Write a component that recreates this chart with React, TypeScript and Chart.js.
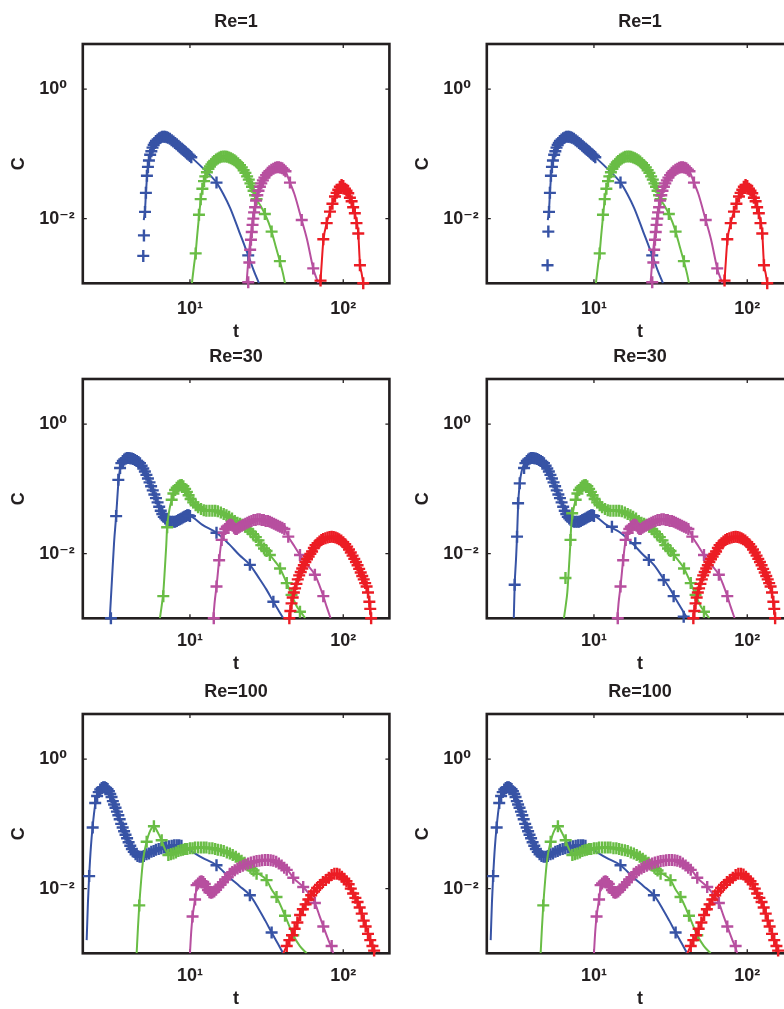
import React, { useEffect, useRef } from 'react';
import { Chart, registerables } from 'chart.js';

Chart.register(...registerables);

type Pt = [number, number];

// ---------- axes ----------
const tLimits: [number, number] = [2, 200];
const cLimits: [number, number] = [0.001, 5];
const tTickValues = [10, 100];
const tTickLabels = ['10¹', '10²'];
const cTickValues = [0.01, 1];
const cTickLabels = ['10⁻²', '10⁰'];
const tAxisTitle = 't';
const cAxisTitle = 'C';
const panelTitles = ['Re=1', 'Re=30', 'Re=100'];
const seriesNames = ['blue', 'green', 'magenta', 'red'];

// ---------- Re = 1 ----------
const re1_blueLine: Pt[] = [[5.0,0.0095],[5.09,0.0135],[5.16,0.024],[5.24,0.042],[5.35,0.068],[5.5,0.097],[5.7,0.125],[6.0,0.158],[6.35,0.178],[6.75,0.185],[7.2,0.178],[8,0.148],[9,0.118],[10,0.093],[12,0.062],[14.9,0.036],[16.5,0.024],[18.3,0.0145],[21,0.0062],[24,0.0027],[26,0.0016],[28.2,0.001]];
const re1_blueMarks: Pt[] = [[4.96,0.00265],[5.01,0.0055],[5.09,0.0127],[5.16,0.025],[5.24,0.046],[5.32,0.063],[5.4,0.079],[5.5,0.097],[5.6,0.11],[5.7,0.125],[5.8,0.137],[5.9,0.148],[6.0,0.158],[6.15,0.167],[6.3,0.175],[6.45,0.18],[6.6,0.184],[6.75,0.185],[6.9,0.184],[7.05,0.181],[7.2,0.177],[7.4,0.171],[7.6,0.163],[7.8,0.156],[8.0,0.148],[8.2,0.141],[8.4,0.134],[8.6,0.127],[8.8,0.121],[9.0,0.116],[9.2,0.111],[9.4,0.106],[9.6,0.101],[9.8,0.097],[10.0,0.093],[10.2,0.089],[14.9,0.036],[24.0,0.0027]];
const re1_greenLine: Pt[] = [[10.3,0.001],[10.6,0.0018],[10.9,0.003],[11.15,0.0055],[11.4,0.0095],[11.65,0.016],[11.9,0.024],[12.2,0.033],[12.6,0.044],[13.1,0.056],[13.8,0.069],[14.8,0.082],[16,0.09],[17,0.091],[18,0.088],[20,0.076],[22.4,0.056],[24.8,0.035],[27.2,0.02],[29,0.0155],[30.8,0.0118],[32.5,0.0088],[34.1,0.0063],[36.5,0.0035],[38.6,0.0022],[40.5,0.0014],[41.7,0.001]];
const re1_greenMarks: Pt[] = [[10.9,0.0029],[11.45,0.0115],[11.75,0.02],[12.05,0.029],[12.35,0.038],[12.6,0.045],[12.9,0.052],[13.2,0.059],[13.5,0.064],[13.8,0.069],[14.1,0.074],[14.4,0.078],[14.8,0.082],[15.2,0.085],[15.6,0.088],[16.0,0.09],[16.5,0.091],[17.0,0.091],[17.5,0.09],[18.0,0.088],[18.5,0.086],[19.0,0.083],[19.5,0.08],[20.0,0.076],[20.6,0.072],[21.2,0.067],[21.8,0.062],[22.4,0.056],[23.0,0.051],[23.6,0.045],[24.2,0.04],[24.8,0.035],[25.4,0.031],[26.0,0.027],[26.6,0.023],[27.2,0.02],[30.8,0.0118],[34.1,0.0063],[38.6,0.0022]];
const re1_magentaLine: Pt[] = [[23.4,0.001],[23.8,0.0017],[24.3,0.003],[24.8,0.0048],[25.4,0.0075],[26.2,0.0125],[27.2,0.02],[28.5,0.029],[30,0.039],[31.5,0.047],[33.5,0.055],[35.5,0.06],[37.5,0.062],[40,0.06],[42,0.054],[44.9,0.036],[48,0.024],[53.6,0.0095],[58,0.0048],[63.7,0.0017],[66,0.0013],[68.8,0.001]];
const re1_magentaMarks: Pt[] = [[24.0,0.00104],[24.4,0.0021],[24.7,0.0033],[25.0,0.0047],[25.3,0.0062],[25.6,0.008],[25.9,0.01],[26.2,0.0125],[26.6,0.015],[27.0,0.019],[27.5,0.023],[28.0,0.027],[28.6,0.031],[29.2,0.035],[29.9,0.039],[30.6,0.043],[31.4,0.047],[32.2,0.051],[33.0,0.054],[34.0,0.057],[35.0,0.059],[36.0,0.061],[37.0,0.062],[38.0,0.062],[39.0,0.061],[40.0,0.06],[41.0,0.057],[42.0,0.054],[44.9,0.036],[53.6,0.0095],[63.7,0.0017]];
const re1_redLine: Pt[] = [[70.9,0.001],[72.5,0.0022],[74.1,0.0045],[78,0.0085],[81.9,0.0128],[85,0.017],[88.3,0.022],[92.8,0.0277],[97.5,0.032],[102.6,0.0295],[107.8,0.0247],[113.4,0.0185],[119,0.0121],[125.3,0.0059],[128.5,0.002],[132,0.0014],[135,0.001]];
const re1_redMarks: Pt[] = [[71.1,0.0011],[74.1,0.0048],[78,0.0085],[81.9,0.0128],[85,0.017],[88.3,0.022],[90.5,0.025],[92.8,0.028],[95,0.031],[97.5,0.033],[100,0.032],[102.6,0.029],[105,0.027],[107.8,0.0247],[110.5,0.021],[113.4,0.0185],[116,0.015],[119,0.0121],[122,0.0085],[125.3,0.0059],[128.5,0.0019],[135,0.001]];
// right-hand Re=1 panel: first blue samples read separately
const re1b_blueFront: Pt[] = [[4.98,0.0019],[5.04,0.0063]];

// ---------- Re = 30 ----------
const re30_blueLine: Pt[] = [[3.0,0.001],[3.1,0.004],[3.2,0.015],[3.3,0.038],[3.41,0.12],[3.5,0.2],[3.65,0.26],[3.8,0.29],[3.96,0.3],[4.3,0.29],[4.72,0.25],[5.0,0.2],[5.25,0.155],[5.48,0.122],[5.75,0.092],[6.06,0.068],[6.37,0.048],[6.7,0.038],[7.0,0.034],[7.5,0.031],[8.0,0.031],[8.6,0.034],[9.3,0.038],[9.8,0.039],[10.5,0.036],[12,0.028],[14.9,0.021],[18,0.014],[21,0.0095],[24.6,0.0067],[28,0.0043],[31.5,0.0028],[35,0.0018],[38,0.0013],[40.6,0.001]];
const re30_blueMarks: Pt[] = [[3.05,0.001],[3.3,0.038],[3.41,0.138],[3.5,0.21],[3.57,0.25],[3.65,0.27],[3.73,0.285],[3.81,0.295],[3.9,0.3],[3.98,0.3],[4.07,0.299],[4.17,0.296],[4.27,0.29],[4.38,0.28],[4.5,0.27],[4.61,0.26],[4.72,0.25],[4.84,0.228],[4.96,0.207],[5.08,0.186],[5.2,0.165],[5.32,0.145],[5.45,0.126],[5.58,0.11],[5.72,0.095],[5.86,0.082],[6.0,0.072],[6.15,0.062],[6.3,0.053],[6.45,0.046],[6.6,0.041],[6.75,0.037],[6.9,0.035],[7.05,0.033],[7.2,0.032],[7.4,0.031],[7.6,0.031],[7.8,0.031],[8.0,0.031],[8.2,0.032],[8.4,0.033],[8.6,0.034],[8.8,0.035],[9.0,0.036],[9.2,0.037],[9.4,0.038],[9.6,0.039],[9.8,0.039],[10.0,0.038],[14.9,0.021],[24.6,0.0067],[35,0.0018]];
const re30_greenLine: Pt[] = [[6.37,0.001],[6.55,0.0016],[6.7,0.0025],[6.85,0.0055],[7.0,0.013],[7.1,0.0256],[7.35,0.048],[7.6,0.068],[8.0,0.095],[8.4,0.11],[8.83,0.115],[9.3,0.1],[9.8,0.08],[10.5,0.062],[11.3,0.052],[12.2,0.047],[13.2,0.046],[14.5,0.046],[16,0.043],[18,0.037],[20,0.031],[22,0.028],[24,0.024],[26.5,0.019],[29,0.014],[31.6,0.011],[33.2,0.0095],[36,0.0075],[38.7,0.0059],[42.8,0.0035],[46,0.0023],[50,0.0015],[52.2,0.0013],[56.5,0.001]];
const re30_greenMarks: Pt[] = [[6.7,0.0022],[7.1,0.0256],[7.6,0.068],[7.8,0.085],[8.0,0.096],[8.2,0.104],[8.4,0.11],[8.6,0.114],[8.83,0.115],[9.05,0.11],[9.3,0.1],[9.55,0.09],[9.8,0.08],[10.1,0.07],[10.5,0.062],[10.9,0.056],[11.3,0.052],[11.8,0.049],[12.3,0.047],[12.8,0.046],[13.4,0.046],[14.0,0.046],[14.6,0.046],[15.2,0.045],[15.9,0.043],[16.6,0.041],[17.3,0.039],[18.0,0.037],[18.8,0.035],[19.6,0.032],[20.4,0.03],[21.2,0.029],[22.0,0.028],[22.9,0.026],[23.8,0.024],[24.8,0.022],[25.8,0.02],[26.9,0.018],[28.0,0.016],[29.2,0.0135],[30.4,0.012],[31.6,0.011],[33.2,0.0095],[38.7,0.0059],[42.8,0.0035],[46.0,0.0023],[52.2,0.00126]];
const re30_magentaLine: Pt[] = [[14.2,0.001],[14.5,0.0018],[14.9,0.0031],[15.5,0.0079],[16.1,0.0163],[16.9,0.0232],[17.6,0.027],[18.4,0.028],[19.4,0.025],[20.3,0.024],[22,0.028],[24,0.031],[26,0.033],[28,0.034],[30,0.033],[32,0.032],[34,0.03],[36.7,0.028],[39,0.026],[41.6,0.0233],[43.8,0.0183],[48,0.013],[52.2,0.0095],[58,0.0068],[65.3,0.0047],[70,0.0032],[74.1,0.0022],[78,0.0015],[82.7,0.001]];
const re30_magentaMarks: Pt[] = [[14.3,0.001],[14.9,0.0031],[15.5,0.0079],[16.1,0.0163],[16.6,0.021],[17.0,0.024],[17.4,0.026],[17.8,0.027],[18.2,0.028],[18.6,0.028],[19.0,0.027],[19.4,0.025],[19.8,0.024],[20.2,0.024],[20.7,0.025],[21.2,0.026],[21.8,0.027],[22.4,0.028],[23.0,0.029],[23.7,0.03],[24.4,0.031],[25.2,0.032],[26.0,0.033],[26.8,0.033],[27.6,0.034],[28.5,0.034],[29.4,0.033],[30.3,0.033],[31.2,0.032],[32.2,0.032],[33.2,0.031],[34.2,0.03],[35.3,0.029],[36.4,0.028],[37.5,0.027],[38.7,0.026],[40.0,0.025],[41.3,0.024],[43.8,0.0183],[52.2,0.0095],[65.3,0.0047],[74.1,0.0022]];
const re30_redLine: Pt[] = [[44.5,0.001],[46,0.0017],[48,0.0027],[50,0.0037],[53,0.0052],[57.7,0.0079],[62,0.011],[67,0.0145],[72,0.0162],[78,0.0176],[84,0.0182],[90,0.018],[97,0.0162],[105,0.0135],[113,0.0102],[122,0.0072],[130,0.0051],[136,0.004],[142,0.0031],[148,0.0018],[152,0.001]];
const re30_redMarks: Pt[] = [[44.5,0.001],[45.2,0.0013],[46,0.0017],[46.8,0.0021],[47.6,0.0025],[48.5,0.0029],[49.5,0.0034],[50.5,0.004],[51.6,0.0046],[52.8,0.0052],[54,0.0059],[55.3,0.0066],[56.6,0.0074],[58,0.0082],[59.5,0.009],[61,0.0099],[62.6,0.0108],[64.3,0.0122],[66,0.0135],[68,0.0145],[70,0.0154],[72,0.0162],[74,0.0168],[76.5,0.0173],[79,0.0177],[81.5,0.018],[84,0.0182],[86.5,0.0181],[89,0.0178],[91.5,0.0173],[94,0.0167],[97,0.0159],[100,0.015],[103,0.014],[106,0.0128],[109,0.0116],[112,0.0104],[115,0.0093],[118,0.0083],[121,0.0074],[124,0.0066],[127,0.0058],[130,0.0051],[133,0.0045],[136,0.004],[139,0.0035],[142,0.0031],[145,0.0025],[148,0.0018],[150,0.0014],[152,0.001]];
// right-hand Re=30 panel: extra sparse samples read separately
const re30b_blueLineFront: Pt[] = [[3.0,0.001],[3.04,0.0033],[3.1,0.008],[3.15,0.0183],[3.2,0.055],[3.28,0.122],[3.38,0.19],[3.5,0.24],[3.65,0.27],[3.8,0.29]];
const re30b_blueFront: Pt[] = [[3.04,0.0033],[3.15,0.0183],[3.2,0.06],[3.28,0.122]];
const re30b_blueTail: Pt[] = [[13.1,0.026],[18.6,0.0145],[22.8,0.008],[28.5,0.0039],[33.1,0.0022],[38.5,0.00106]];
const re30b_greenFront: Pt[] = [[6.52,0.0042],[7.03,0.0163],[7.21,0.042]];

// ---------- Re = 100 ----------
const re100_blueLine: Pt[] = [[2.12,0.0016],[2.16,0.006],[2.2,0.0156],[2.26,0.045],[2.32,0.092],[2.41,0.2],[2.5,0.29],[2.6,0.35],[2.7,0.375],[2.82,0.365],[2.95,0.32],[3.05,0.27],[3.16,0.21],[3.3,0.16],[3.49,0.115],[3.67,0.082],[3.86,0.062],[4.05,0.048],[4.27,0.039],[4.5,0.033],[4.72,0.031],[5.0,0.032],[5.5,0.036],[6.2,0.041],[7,0.044],[8,0.047],[8.8,0.046],[10,0.039],[12,0.03],[14.9,0.023],[18,0.015],[21,0.011],[24.6,0.0079],[28,0.0049],[31,0.0032],[34.1,0.0021],[37.5,0.0014],[40.6,0.001]];
const re100_blueMarks: Pt[] = [[2.2,0.0156],[2.32,0.088],[2.41,0.21],[2.48,0.27],[2.54,0.31],[2.6,0.34],[2.66,0.36],[2.72,0.37],[2.78,0.37],[2.84,0.36],[2.9,0.345],[2.96,0.32],[3.02,0.29],[3.08,0.26],[3.14,0.225],[3.2,0.2],[3.27,0.178],[3.34,0.155],[3.41,0.136],[3.48,0.118],[3.56,0.1],[3.64,0.088],[3.72,0.077],[3.8,0.068],[3.89,0.06],[3.98,0.052],[4.08,0.046],[4.18,0.041],[4.3,0.037],[4.42,0.034],[4.55,0.032],[4.7,0.031],[4.85,0.031],[5.0,0.032],[5.2,0.034],[5.4,0.035],[5.6,0.037],[5.8,0.038],[6.0,0.04],[6.25,0.041],[6.5,0.042],[6.75,0.043],[7.0,0.044],[7.3,0.045],[7.6,0.046],[7.9,0.047],[8.2,0.047],[8.5,0.047],[8.8,0.046],[14.9,0.023],[24.6,0.0079],[34.1,0.0021]];
const re100_greenLine: Pt[] = [[4.49,0.001],[4.58,0.0025],[4.67,0.0055],[4.8,0.013],[4.96,0.029],[5.22,0.053],[5.5,0.078],[5.82,0.09],[6.15,0.075],[6.54,0.055],[6.9,0.04],[7.23,0.034],[7.8,0.034],[8.5,0.038],[9.5,0.041],[10.5,0.042],[12,0.043],[14.2,0.042],[16,0.039],[18.2,0.035],[20.5,0.03],[23.4,0.0245],[27,0.018],[31.6,0.0135],[34,0.0098],[36.7,0.0074],[40,0.0048],[43,0.0032],[47.2,0.0019],[52,0.0013],[57.7,0.001]];
const re100_greenMarks: Pt[] = [[4.67,0.0055],[5.22,0.053],[5.82,0.092],[6.54,0.056],[7.23,0.033],[7.5,0.034],[7.8,0.035],[8.1,0.036],[8.4,0.038],[8.7,0.039],[9.0,0.04],[9.3,0.041],[9.6,0.041],[10.0,0.042],[10.4,0.042],[10.8,0.043],[11.3,0.043],[11.8,0.043],[12.3,0.043],[12.8,0.043],[13.4,0.042],[14.0,0.042],[14.6,0.041],[15.2,0.04],[15.9,0.039],[16.6,0.038],[17.4,0.036],[18.2,0.035],[19.0,0.033],[19.9,0.031],[20.8,0.029],[21.7,0.027],[22.7,0.025],[23.7,0.023],[24.8,0.021],[26.0,0.019],[27.2,0.017],[31.6,0.0135],[36.7,0.0074],[41.7,0.0038],[47.2,0.0019]];
const re100_magentaLine: Pt[] = [[10,0.001],[10.2,0.0022],[10.4,0.0037],[10.8,0.0068],[11.05,0.0105],[11.5,0.0125],[12.0,0.013],[12.5,0.0118],[13.1,0.0095],[13.7,0.0086],[14.4,0.009],[15.3,0.0105],[16.4,0.0126],[18.2,0.017],[20.4,0.0205],[23,0.0236],[26.1,0.026],[29.6,0.0274],[32.2,0.0278],[35,0.027],[38,0.0245],[41.2,0.021],[44,0.0185],[47.2,0.0147],[54.8,0.0106],[60,0.0082],[65.3,0.006],[70,0.0038],[74.1,0.0026],[80,0.0016],[84,0.0012],[86,0.001]];
const re100_magentaMarks: Pt[] = [[10.4,0.0037],[10.8,0.0068],[11.05,0.0113],[11.3,0.012],[11.6,0.0128],[11.9,0.013],[12.2,0.0127],[12.5,0.0118],[12.8,0.0105],[13.1,0.0095],[13.4,0.0088],[13.7,0.0086],[14.0,0.0087],[14.4,0.009],[14.8,0.0096],[15.3,0.0105],[15.8,0.0115],[16.4,0.0126],[17.0,0.0138],[17.6,0.015],[18.2,0.017],[18.9,0.018],[19.6,0.0192],[20.4,0.0205],[21.2,0.0215],[22.1,0.0226],[23.0,0.0236],[24.0,0.0245],[25.0,0.0253],[26.1,0.026],[27.2,0.0266],[28.4,0.027],[29.6,0.0274],[30.9,0.0277],[32.2,0.0278],[33.6,0.0275],[35.0,0.027],[36.5,0.026],[38.0,0.0245],[39.6,0.0228],[41.2,0.021],[42.8,0.0195],[47.2,0.0147],[54.8,0.0106],[65.3,0.006],[74.1,0.0026],[84,0.0013]];
const re100_redLine: Pt[] = [[40.6,0.001],[42.8,0.0013],[46,0.0018],[49.6,0.0027],[53.6,0.0044],[59.2,0.0068],[65.3,0.0093],[72.3,0.012],[80,0.0146],[86,0.0166],[91,0.017],[97.5,0.0153],[103,0.0138],[108,0.0119],[116,0.0084],[125.3,0.006],[135,0.0034],[145.7,0.002],[152,0.0015],[157,0.0012],[161,0.001]];
const re100_redMarks: Pt[] = [[42.8,0.0013],[44.5,0.0016],[46.3,0.0019],[48.2,0.0024],[50.2,0.003],[52.3,0.0039],[54.5,0.0048],[56.8,0.0057],[59.2,0.0068],[61.8,0.0079],[64.5,0.009],[67.5,0.0102],[70.5,0.0114],[73.7,0.0126],[77,0.0136],[80.5,0.0147],[84,0.0162],[87.5,0.0169],[91,0.017],[94.5,0.0165],[98,0.0152],[101.5,0.0142],[105,0.013],[108.5,0.0117],[112,0.01],[116,0.0084],[120,0.0072],[124,0.0062],[128,0.0051],[132,0.0041],[136,0.0032],[140,0.0026],[145,0.002],[150,0.0016],[155,0.0013],[159,0.0011]];

// ---------- panel assembly ----------
type Series = { line: Pt[]; marks: Pt[] };
type PanelSpec = { title: string; row: number; col: number; series: Series[] };

const inRange = (pts: Pt[], lo: number, hi: number) => pts.filter(([t]) => t >= lo && t <= hi);

const re1b_blueMarks: Pt[] = [...re1b_blueFront, ...re1_blueMarks.slice(2)];
const re30b_blueLine: Pt[] = [...re30b_blueLineFront, ...inRange(re30_blueLine, 3.9, 1000)];
const re30b_blueMarks: Pt[] = [...re30b_blueFront, ...inRange(re30_blueMarks, 3.45, 10.5), ...re30b_blueTail];
const re30b_greenMarks: Pt[] = [...re30b_greenFront, ...inRange(re30_greenMarks, 7.5, 1000)];

const panels: PanelSpec[] = [
  { title: panelTitles[0], row: 0, col: 0, series: [
    { line: re1_blueLine, marks: re1_blueMarks },
    { line: re1_greenLine, marks: re1_greenMarks },
    { line: re1_magentaLine, marks: re1_magentaMarks },
    { line: re1_redLine, marks: re1_redMarks } ] },
  { title: panelTitles[0], row: 0, col: 1, series: [
    { line: re1_blueLine, marks: re1b_blueMarks },
    { line: re1_greenLine, marks: re1_greenMarks },
    { line: re1_magentaLine, marks: re1_magentaMarks },
    { line: re1_redLine, marks: re1_redMarks } ] },
  { title: panelTitles[1], row: 1, col: 0, series: [
    { line: re30_blueLine, marks: re30_blueMarks },
    { line: re30_greenLine, marks: re30_greenMarks },
    { line: re30_magentaLine, marks: re30_magentaMarks },
    { line: re30_redLine, marks: re30_redMarks } ] },
  { title: panelTitles[1], row: 1, col: 1, series: [
    { line: re30b_blueLine, marks: re30b_blueMarks },
    { line: re30_greenLine, marks: re30b_greenMarks },
    { line: re30_magentaLine, marks: re30_magentaMarks },
    { line: re30_redLine, marks: re30_redMarks } ] },
  { title: panelTitles[2], row: 2, col: 0, series: [
    { line: re100_blueLine, marks: re100_blueMarks },
    { line: re100_greenLine, marks: re100_greenMarks },
    { line: re100_magentaLine, marks: re100_magentaMarks },
    { line: re100_redLine, marks: re100_redMarks } ] },
  { title: panelTitles[2], row: 2, col: 1, series: [
    { line: re100_blueLine, marks: re100_blueMarks },
    { line: re100_greenLine, marks: re100_greenMarks },
    { line: re100_magentaLine, marks: re100_magentaMarks },
    { line: re100_redLine, marks: re100_redMarks } ] },
];

// ---------- styling / layout ----------
const FONT = "'Liberation Sans', Arial, Helvetica, 'DejaVu Sans', sans-serif";
const INK = '#231f20';
const SERIES_COLORS = ['#3753a5', '#69bd45', '#b74f9f', '#ec1c24'];
const COL_LEFT = [0, 404];
const ROW_TOP = [0, 335, 670];
const CANVAS_W = 398;
const CANVAS_H = 344;
const AREA_TOP = 44;
const AREA_H = 239.3;
const AREA_LEFT = 82.8;
const AREA_W = 306.6;
const Y_LABEL_LEFT = 39.3;
const Y_TITLE_CENTER = 19.2;
const X_TICK_PAD = [14.5, 12, 12];
const X_TITLE_PAD = [1.5, 3.9, 3.9];
const TITLE_PAD_TOP = 10.9;
const LINE_H = 21.6;
const MARK_RADIUS = 6;
const MARK_WIDTH = 2.4;

const framePlugin = {
  id: 'matlabFrame',
  beforeDatasetsDraw(chart: any) {
    const { ctx, chartArea: a, scales } = chart;
    ctx.save();
    ctx.strokeStyle = INK;
    ctx.lineWidth = 1.3;
    ctx.beginPath();
    for (const v of tTickValues) {
      const x = scales.x.getPixelForValue(v);
      ctx.moveTo(x, a.bottom); ctx.lineTo(x, a.bottom - 4);
      ctx.moveTo(x, a.top); ctx.lineTo(x, a.top + 4);
    }
    for (const v of cTickValues) {
      const y = scales.y.getPixelForValue(v);
      ctx.moveTo(a.left, y); ctx.lineTo(a.left + 4, y);
      ctx.moveTo(a.right, y); ctx.lineTo(a.right - 4, y);
    }
    ctx.stroke();
    ctx.lineWidth = 2.6;
    ctx.strokeRect(a.left, a.top, a.right - a.left, a.bottom - a.top);
    ctx.restore();
  },
};

function buildConfig(spec: PanelSpec): any {
  const datasets: any[] = [];
  for (let i = spec.series.length - 1; i >= 0; i--) {
    const s = spec.series[i];
    const color = SERIES_COLORS[i];
    datasets.push({
      label: seriesNames[i] + ' data',
      data: s.marks.map(([x, y]) => ({ x, y })),
      showLine: false,
      pointStyle: 'cross',
      pointRadius: MARK_RADIUS,
      pointBorderWidth: MARK_WIDTH,
      pointBorderColor: color,
      pointBackgroundColor: color,
      borderColor: color,
      backgroundColor: color,
      clip: 8,
    });
    datasets.push({
      label: seriesNames[i] + ' model',
      data: s.line.map(([x, y]) => ({ x, y })),
      showLine: true,
      pointRadius: 0,
      borderWidth: 2,
      borderColor: color,
      backgroundColor: color,
      cubicInterpolationMode: 'monotone',
      fill: false,
    });
  }
  const font = { family: FONT, size: 18, weight: 'bold', lineHeight: 1.2 };
  return {
    type: 'scatter',
    data: { datasets },
    options: {
      responsive: false,
      animation: false,
      devicePixelRatio: 1,
      events: [],
      layout: { padding: { left: Y_LABEL_LEFT, right: CANVAS_W - AREA_LEFT - AREA_W, top: 0, bottom: 0 } },
      plugins: {
        legend: { display: false },
        tooltip: { enabled: false },
        title: {
          display: true, text: spec.title, color: INK, font, fullSize: false,
          padding: { top: TITLE_PAD_TOP, bottom: AREA_TOP - TITLE_PAD_TOP - LINE_H },
        },
      },
      scales: {
        x: {
          type: 'logarithmic', position: 'bottom', min: tLimits[0], max: tLimits[1],
          afterFit: (s: any) => { s.height = CANVAS_H - AREA_TOP - AREA_H; },
          afterBuildTicks: (s: any) => { s.ticks = tTickValues.map((value) => ({ value })); },
          ticks: {
            callback: (v: any) => tTickLabels[tTickValues.indexOf(Number(v))] ?? '',
            color: INK, font, padding: X_TICK_PAD[spec.row], maxRotation: 0, minRotation: 0, autoSkip: false,
          },
          grid: { display: false, drawTicks: false, tickLength: 0 },
          border: { display: false },
          title: { display: true, text: tAxisTitle, color: INK, font, padding: { top: 0, bottom: X_TITLE_PAD[spec.row] } },
        },
        y: {
          type: 'logarithmic', position: 'left', min: cLimits[0], max: cLimits[1],
          afterFit: (s: any) => { s.width = AREA_LEFT - Y_LABEL_LEFT; },
          afterBuildTicks: (s: any) => { s.ticks = cTickValues.map((value) => ({ value })); },
          ticks: {
            callback: (v: any) => cTickLabels[cTickValues.indexOf(Number(v))] ?? '',
            color: INK, font, padding: 0, crossAlign: 'far', autoSkip: false,
          },
          grid: { display: false, drawTicks: false, tickLength: 0 },
          border: { display: false },
          title: {
            display: true, text: cAxisTitle, color: INK, font,
            padding: { top: Y_TITLE_CENTER - Y_LABEL_LEFT - LINE_H / 2, bottom: 0 },
          },
        },
      },
    },
    plugins: [framePlugin],
  };
}

function Panel({ spec }: { spec: PanelSpec }) {
  const ref = useRef<HTMLCanvasElement | null>(null);
  useEffect(() => {
    if (!ref.current) return;
    const chart = new Chart(ref.current, buildConfig(spec));
    return () => chart.destroy();
  }, [spec]);
  return (
    <canvas
      ref={ref}
      width={CANVAS_W}
      height={CANVAS_H}
      style={{ position: 'absolute', left: COL_LEFT[spec.col], top: ROW_TOP[spec.row], width: CANVAS_W, height: CANVAS_H }}
    />
  );
}

export default function App() {
  return (
    <div style={{ position: 'fixed', left: 0, top: 0, width: 784, height: 1009, overflow: 'hidden', background: '#ffffff' }}>
      {panels.map((p, i) => (
        <Panel key={i} spec={p} />
      ))}
    </div>
  );
}
